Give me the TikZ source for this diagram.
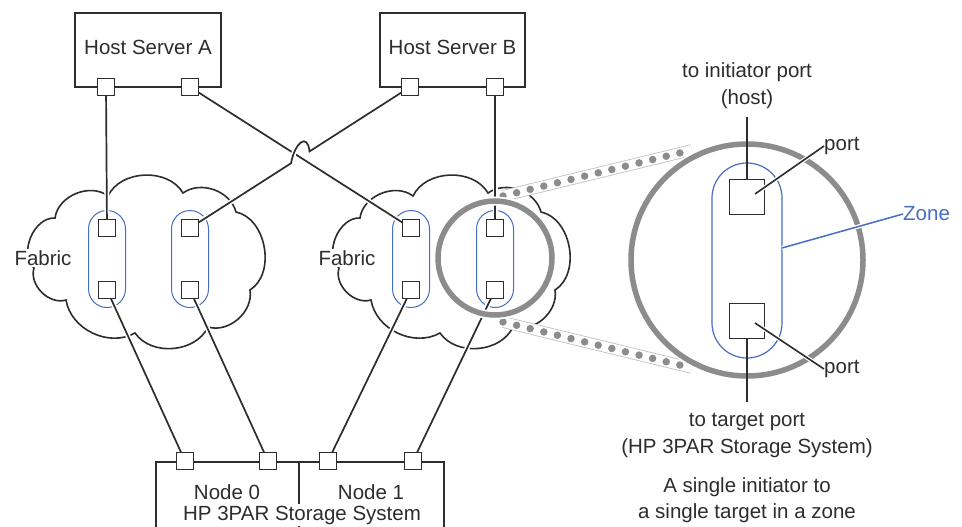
\documentclass[tikz,border=0pt]{standalone}
\usepackage{fontspec}
\setmainfont{Liberation Sans}
\usetikzlibrary{calc}
\definecolor{ink}{RGB}{45,45,45}
\definecolor{zoneblue}{RGB}{70,110,195}
\definecolor{lensgray}{RGB}{140,140,140}
\tikzset{
  txt/.style={font=\fontsize{20.5}{23}\selectfont, text=ink, inner sep=0pt},
  hostbox/.style={draw=ink, line width=1.6pt, fill=white},
  portsq/.style={draw=ink, line width=1.6pt, fill=white, minimum size=17pt, inner sep=0pt},
  bigport/.style={draw=ink, line width=1.6pt, fill=white, minimum size=35pt, inner sep=0pt},
  zoneov/.style={draw=zoneblue, line width=1pt, rounded corners=18.5pt, minimum width=37pt, minimum height=97pt, inner sep=0pt},
  bigzone/.style={draw=zoneblue, line width=1.2pt, rounded corners=35pt, minimum width=70pt, minimum height=195pt, inner sep=0pt},
  cloudline/.style={draw=ink, line width=1.6pt, fill=white},
  link/.style={draw=ink, line width=1.7pt, preaction={draw=white, line width=5pt}},
  lens/.style={circle, draw=lensgray, line width=5.5pt, inner sep=0pt, preaction={draw=white, line width=9pt}},
  bandedge/.style={draw=lensgray!55, line width=0.8pt, double=white, double distance=10pt},
  banddots/.style={draw=lensgray, line width=7.5pt, line cap=round, dash pattern=on 0pt off 14pt},
  thinline/.style={draw=ink, line width=1.6pt},
}
\begin{document}
\begin{tikzpicture}[x=1pt, y=-1pt]
\useasboundingbox (0,0) rectangle (962,527);
\clip (0,0) rectangle (962,527);
\fill[white] (0,0) rectangle (962,527);

% clouds
\foreach \dx in {0,305}{
  \draw[cloudline, shift={(\dx,0)}] (55,218) to[bend left=60] (108,196) to[bend left=62] (183,193)
     to[bend left=55] (236,212) to[bend left=68] (250,290) to[bend left=58] (208,327)
     to[bend left=60] (135,333) to[bend left=55] (66,300) to[bend left=62] (34,268)
     to[bend left=70] cycle;
}
\node[txt, fill=white, inner sep=1.5pt] (fab1) at (43,258) {Fabric};
\node[txt, fill=white, inner sep=1.5pt] (fab2) at (347,258) {Fabric};

% hosts
\node[hostbox, minimum width=146pt, minimum height=74pt] (hA) at (148,50) {};
\node[txt] (hAt) at (148,47) {Host Server A};
\node[hostbox, minimum width=145pt, minimum height=74pt] (hB) at (452.5,50) {};
\node[txt] (hBt) at (452.5,47) {Host Server B};

% zones in fabrics
\node[zoneov] (z11) at (107,259) {};
\node[zoneov] (z12) at (190,259) {};
\node[zoneov] (z21) at (411,259) {};
\node[zoneov] (z22) at (495,259) {};

% storage system
\node[hostbox, anchor=north west, minimum width=288pt, minimum height=110pt] (stor) at (155,461) {};
\coordinate (dtop) at (299,461);
\coordinate (dbot) at (299,560);
\draw[thinline] (dtop) -- (dbot);
\node[txt] (n0) at (227,492) {Node 0};
\node[txt] (n1) at (371,492) {Node 1};
\node[txt, fill=white, inner sep=1.5pt] (hp) at (302,515) {HP 3PAR Storage System};

% port positions
\coordinate (hA1) at (106,87);
\coordinate (hA2) at (190,87);
\coordinate (hB1) at (410,87);
\coordinate (hB2) at (495,87);
\coordinate (p11u) at (107,228);
\coordinate (p11l) at (107,290);
\coordinate (p12u) at (190,228);
\coordinate (p12l) at (190,290);
\coordinate (p21u) at (411,228);
\coordinate (p21l) at (411,290);
\coordinate (p22u) at (495,228);
\coordinate (p22l) at (495,290);
\coordinate (s1) at (185,461);
\coordinate (s2) at (268,461);
\coordinate (s3) at (328,461);
\coordinate (s4) at (413,461);

% links
\draw[link] (hA1) -- (p11u);
\draw[link] (hB2) -- (p22u);
\draw[link] (hA2) -- (p21u);
\coordinate (X) at (intersection of hA2--p21u and hB1--p12u);
\coordinate (h1) at ($(X)!11pt!(hB1)$);
\coordinate (h2) at ($(X)!-11pt!(hB1)$);
\draw[link] (hB1) -- (h1) .. controls ($(h1)+(-2,-19)$) and ($(h2)+(4,-21)$) .. (h2) -- (p12u);
\draw[link] (p11l) -- (s1);
\draw[link] (p12l) -- (s2);
\draw[link] (p21l) -- (s3);
\draw[link] (p22l) -- (s4);

% port squares
\foreach \p in {hA1,hA2,hB1,hB2,p11u,p11l,p12u,p12l,p21u,p21l,p22u,p22l,s1,s2,s3,s4}
  \node[portsq] (q\p) at (\p) {};

% dotted bands
\coordinate (bu1) at (503,196);
\coordinate (bu2) at (692,150);
\coordinate (bl1) at (503,322);
\coordinate (bl2) at (692,368);
\draw[bandedge] (bu1) -- (bu2);
\draw[banddots] (bu1) -- (bu2);
\draw[bandedge] (bl1) -- (bl2);
\draw[banddots] (bl1) -- (bl2);

% lenses
\node[lens, minimum size=114pt] (small) at (495,258) {};
\node[lens, minimum size=232pt] (big) at (747,260) {};

% magnified zone
\node[bigzone] (bz) at (747,260.5) {};
\coordinate (vt) at (747,117);
\coordinate (vb) at (747,402);
\node[bigport] (bpu) at (747,197) {};
\node[bigport] (bpl) at (747,321) {};
\draw[thinline] (vt) -- (bpu.north);
\draw[thinline] (bpl.south) -- (vb);

% labels
\node[txt] (ti1) at (747,72) {to initiator port};
\node[txt] (ti2) at (747,99) {(host)};
\node[txt] (tt1) at (747,422) {to target port};
\node[txt] (tt2) at (747,448) {(HP 3PAR Storage System)};
\node[txt] (cap1) at (747,487) {A single initiator to};
\node[txt] (cap2) at (747,513) {a single target in a zone};

\node[txt, anchor=west] (portU) at (824,146) {port};
\node[txt, anchor=west] (portL) at (824,369) {port};
\node[txt, anchor=west, text=zoneblue] (zone) at (903,214) {Zone};
\coordinate (pu0) at (755,194);
\coordinate (pl0) at (755,323);
\draw[thinline, preaction={draw=white, line width=4pt}] (pu0) -- (portU.west);
\draw[thinline, preaction={draw=white, line width=4pt}] (pl0) -- (portL.west);
\coordinate (zs) at (782,248);
\draw[draw=zoneblue, line width=1.5pt, preaction={draw=white, line width=4pt}] (zs) -- (zone.west);
\end{tikzpicture}
\end{document}
